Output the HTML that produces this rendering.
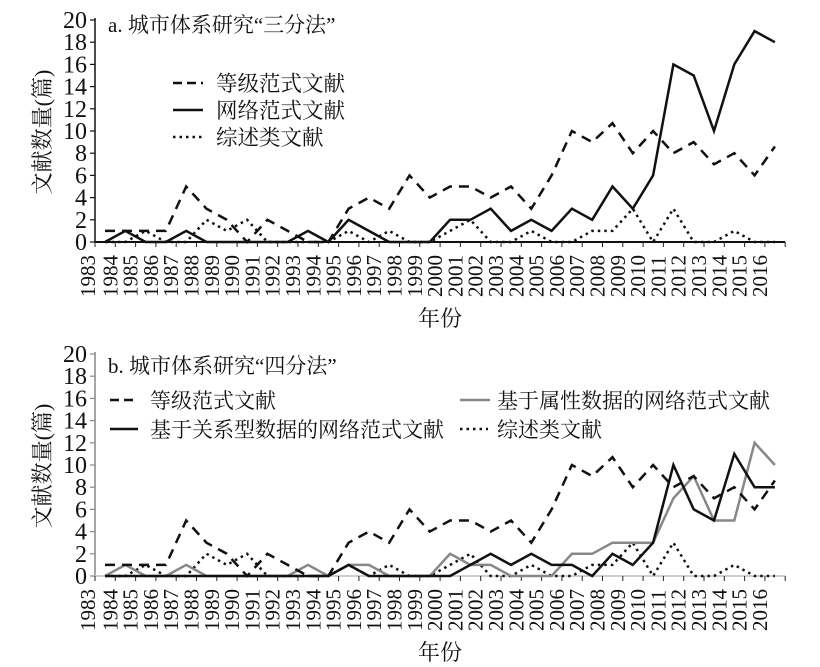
<!DOCTYPE html>
<html><head><meta charset="utf-8"><style>
html,body{margin:0;padding:0;background:#fff;width:820px;height:667px;overflow:hidden}
svg text{font-family:"Liberation Serif","Noto Serif CJK SC",serif;fill:#111}
</style></head><body>
<svg id="s" width="820" height="667" xmlns="http://www.w3.org/2000/svg"></svg>
<script>
var s=document.getElementById('s'),h='';
var dash=[1,1,1,1,5,3,2,0,2,1,0,0,3,4,3,6,4,5,5,4,5,3,6,10,9,10.7,8,10,8,9,7,8,6,8.6];
var net=[0,1,0,0,1,0,0,0,0,0,1,0,2,1,0,0,0,2,2,3,1,2,1,3,2,5,3,6,16,15,10,16,19,18];
var dot=[0,0,1,0,0,2,1,2,0,0,0,0,1,0,1,0,0,1,2,0,0,1,0,0,1,1,3,0,3,0,0,1,0,0];
var rel=[0,0,0,0,0,0,0,0,0,0,0,0,1,0,0,0,0,0,1,2,1,2,1,1,0,2,1,3,10,6,5,11,8,8];
var att=[0,1,0,0,1,0,0,0,0,0,1,0,1,1,0,0,0,2,1,1,0,0,0,2,2,3,3,3,7,9,5,5,12,10];
var X0=95,DX=20.3,U=11.1;
function px(i){return X0+10+DX*i}
function poly(d,y0,st){var p=d.map(function(v,i){return px(i).toFixed(1)+','+(y0-v*U).toFixed(1)}).join(' ');h+='<polyline points="'+p+'" fill="none" stroke-linejoin="miter" '+st+'/>';}
function chart(y0,axc,xac,title,ytop){
 h+='<line x1="'+X0+'" y1="'+(y0-20*U-2)+'" x2="'+X0+'" y2="'+y0+'" stroke="'+axc+'" stroke-width="1.5"/>';
 for(var k=0;k<=20;k+=2){var y=y0-k*U;h+='<line x1="'+(X0-5)+'" y1="'+y+'" x2="'+X0+'" y2="'+y+'" stroke="'+axc+'" stroke-width="1.2"/>';
  h+='<text x="'+(X0-8)+'" y="'+(y+8)+'" font-size="24" text-anchor="end">'+k+'</text>';}
 h+='<line x1="'+X0+'" y1="'+y0+'" x2="'+(X0+DX*34)+'" y2="'+y0+'" stroke="'+xac+'" stroke-width="2"/>';
 for(var i=0;i<=34;i++){var x=X0+DX*i;h+='<line x1="'+x+'" y1="'+y0+'" x2="'+x+'" y2="'+(y0+5)+'" stroke="#222" stroke-width="1"/>';}
 for(var i=0;i<34;i++){var x=X0-7+DX*i+ (i>0?2:0);h+='<text transform="translate('+(x+7)+','+(y0+55)+') rotate(-90)" font-size="21">'+(1983+i)+'</text>';}
 h+='<text x="108" y="'+(ytop)+'" font-size="21">'+title+'</text>';
 h+='<text transform="translate(50,'+(y0-110)+') rotate(-90)" font-size="22" text-anchor="middle">文献数量(篇)</text>';
 h+='<text x="418" y="'+(y0+84)+'" font-size="22">年份</text>';
}
var DOT='stroke="#111" stroke-width="2.5" stroke-dasharray="2.5,4"';
chart(242,'#111','#111','a. 城市体系研究“三分法”',32);
poly(dot,242,DOT);
poly(dash,242,'stroke="#111" stroke-width="2.5" stroke-dasharray="10,7"');
poly(net,242,'stroke="#111" stroke-width="2.5"');
h+='<line x1="173" y1="83" x2="203" y2="83" stroke="#111" stroke-width="2.5" stroke-dasharray="9,5"/><text x="216" y="91" font-size="21.5">等级范式文献</text>';
h+='<line x1="173" y1="110" x2="203" y2="110" stroke="#111" stroke-width="2.5"/><text x="216" y="118" font-size="21.5">网络范式文献</text>';
h+='<line x1="173" y1="137" x2="203" y2="137" '+DOT+'/><text x="216" y="145" font-size="21.5">综述类文献</text>';
chart(576,'#888','#c8d0d0','b. 城市体系研究“四分法”',373);
poly(dot,576,DOT);
poly(att,576,'stroke="#888" stroke-width="2.5"');
poly(dash,576,'stroke="#111" stroke-width="2.5" stroke-dasharray="10,7"');
poly(rel,576,'stroke="#111" stroke-width="2.5"');
h+='<line x1="110" y1="400" x2="138" y2="400" stroke="#111" stroke-width="2.5" stroke-dasharray="9,5"/><text x="150" y="408" font-size="21">等级范式文献</text>';
h+='<line x1="110" y1="429" x2="138" y2="429" stroke="#111" stroke-width="2.5"/><text x="150" y="437" font-size="21">基于关系型数据的网络范式文献</text>';
h+='<line x1="460" y1="400" x2="490" y2="400" stroke="#888" stroke-width="2.5"/><text x="497" y="408" font-size="21">基于属性数据的网络范式文献</text>';
h+='<line x1="460" y1="429" x2="488" y2="429" '+DOT+'/><text x="497" y="437" font-size="21">综述类文献</text>';
s.innerHTML=h;
</script>
</body></html>
